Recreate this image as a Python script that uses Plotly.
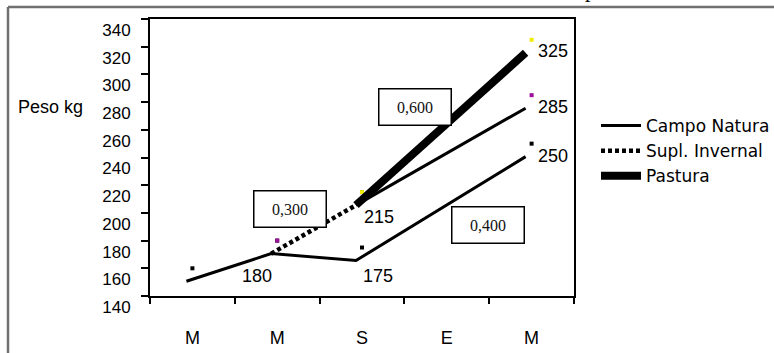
import plotly.graph_objects as go

# ---------------- data ----------------
months = ["M", "M", "S", "E", "M"]
x_idx = [0, 1, 2, 3, 4]
campo = [160, 180, 175, None, 250]
supl = [None, 180, 215, None, 285]
pastura = [None, None, 215, None, 325]
y_ticks = [140, 160, 180, 200, 220, 240, 260, 280, 300, 320, 340]
gain_text = ["0,300", "0,600", "0,400"]
gain_x = [1.145, 2.63, 3.49]
gain_y = [202.8, 276.5, 191.3]

# ---------------- geometry helpers ----------------
W, H = 774, 353
L, R, T, B = 150, 574, 19, 296
pw, ph = R - L, B - T


def px_x(x):
    return (x - L) / pw


def px_y(y):
    return (B - y) / ph


def seg(vals, i0, i1):
    xs, ys = [], []
    for i in range(i0, i1 + 1):
        if vals[i] is not None:
            xs.append(x_idx[i])
            ys.append(vals[i])
    return xs, ys


fig = go.Figure()

# markers (main axes)
mk = dict(symbol="square", size=4)
for vals, col in [(campo, "black"), (supl, "#9a109a"), (pastura, "#eeee00")]:
    xs, ys = seg(vals, 0, 4)
    fig.add_trace(go.Scatter(x=xs, y=ys, mode="markers", showlegend=False,
                             marker=dict(color=col, **mk), hoverinfo="skip"))

# lines on slightly shifted overlay axes (as in the scanned original)
xs, ys = seg(campo, 0, 4)
fig.add_trace(go.Scatter(x=xs, y=ys, mode="lines", name="Campo Natura",
                         line=dict(color="black", width=3), xaxis="x2", yaxis="y2"))
xs, ys = seg(supl, 1, 2)
fig.add_trace(go.Scatter(x=xs, y=ys, mode="lines", name="Supl. Invernal",
                         line=dict(color="black", width=4.5, dash="4px,3px"),
                         xaxis="x2", yaxis="y2"))
xs, ys = seg(supl, 2, 4)
fig.add_trace(go.Scatter(x=xs, y=ys, mode="lines", showlegend=False,
                         line=dict(color="black", width=3), xaxis="x2", yaxis="y2"))
xs, ys = seg(pastura, 2, 4)
fig.add_trace(go.Scatter(x=xs, y=ys, mode="lines", name="Pastura",
                         line=dict(color="black", width=8), xaxis="x2", yaxis="y2"))

dx = 6 / (pw / 5.0)
dy = 13 / (ph / 200.0)

annotations = []
# value labels
lab_font = dict(family="Liberation Sans, Arial", size=18, color="black")
val_labels = [(1, campo[1], -20, -35), (2, campo[2], 16, -28), (2, pastura[2], 17, -25),
              (4, campo[4], 21, -12), (4, supl[4], 21, -12), (4, pastura[4], 21, -11)]
for xi, v, xs_, ys_ in val_labels:
    annotations.append(dict(x=xi, y=v, xref="x", yref="y", text=str(v), showarrow=False,
                            xshift=xs_, yshift=ys_, font=lab_font))
# gain boxes
for t, gx, gy in zip(gain_text, gain_x, gain_y):
    annotations.append(dict(x=gx, y=gy, xref="x", yref="y", text=t, showarrow=False,
                            font=dict(family="Liberation Serif, Times New Roman", size=16, color="#111"),
                            bordercolor="black", borderwidth=1.5, borderpad=0,
                            width=71, height=35, bgcolor="white"))
# y-axis title
annotations.append(dict(x=px_x(16), y=px_y(107), xref="paper", yref="paper", text="Peso kg",
                        showarrow=False, xanchor="left", yanchor="middle",
                        font=dict(family="Liberation Sans, Arial", size=18, color="black")))
# cut-off title glyph at the very top
annotations.append(dict(x=px_x(590), y=px_y(4), xref="paper", yref="paper", text="p",
                        showarrow=False, xanchor="center", yanchor="bottom",
                        font=dict(family="Liberation Serif", size=22, color="black")))

shapes = [
    dict(type="line", xref="paper", yref="paper", x0=px_x(8), x1=px_x(8),
         y0=px_y(7), y1=px_y(W), line=dict(color="#707070", width=2.5)),
    dict(type="line", xref="paper", yref="paper", x0=px_x(8), x1=px_x(W + 10),
         y0=px_y(7), y1=px_y(7), line=dict(color="#707070", width=2.5)),
]

fig.update_layout(
    width=W, height=H,
    margin=dict(l=L, r=W - R, t=T, b=H - B, autoexpand=False),
    paper_bgcolor="white", plot_bgcolor="white",
    font=dict(family="Liberation Sans, Arial", color="black"),
    xaxis=dict(range=[-0.5, 4.5], tickmode="array", tickvals=x_idx, ticktext=months,
               ticks="", showgrid=False, zeroline=False, showline=True, linecolor="black",
               linewidth=2, mirror=True, ticklabelstandoff=24,
               tickfont=dict(size=18, family="Liberation Sans, Arial"),
               minor=dict(tickmode="array", tickvals=[-0.5, 0.5, 1.5, 2.5, 3.5, 4.5],
                          ticks="outside", ticklen=6, tickwidth=2, tickcolor="black")),
    yaxis=dict(range=[140, 340], tickmode="array", tickvals=y_ticks, ticks="outside",
               ticklen=7, tickwidth=2, tickcolor="black", showgrid=False, zeroline=False,
               showline=True, linecolor="black", linewidth=2, mirror=True,
               ticklabelshift=11, ticklabelstandoff=7,
               tickfont=dict(size=17, family="Liberation Sans, Arial")),
    xaxis2=dict(range=[-0.5 + dx, 4.5 + dx], overlaying="x", visible=False),
    yaxis2=dict(range=[140 + dy, 340 + dy], overlaying="y", visible=False),
    showlegend=True,
    legend=dict(x=596 / W, y=1 - 108 / H, xref="container", yref="container",
                xanchor="left", yanchor="top",
                font=dict(size=17, family="DejaVu Sans, Liberation Sans"),
                itemwidth=40, bgcolor="rgba(0,0,0,0)", tracegroupgap=0),
    annotations=annotations,
    shapes=shapes,
)

fig.write_html("out.html")
